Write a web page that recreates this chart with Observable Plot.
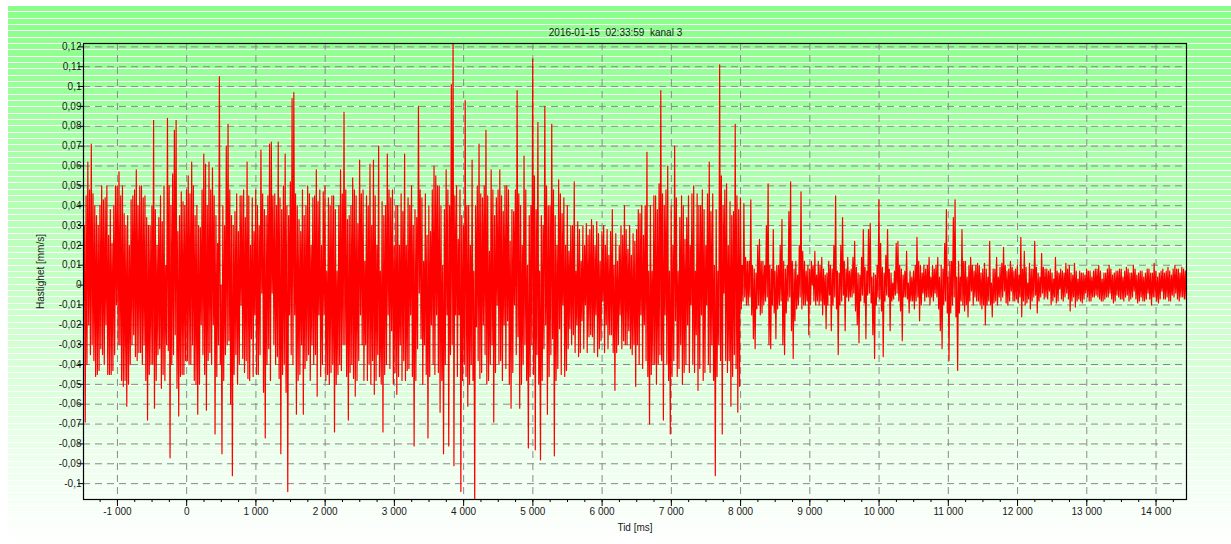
<!DOCTYPE html>
<html>
<head>
<meta charset="utf-8">
<script src="https://cdn.jsdelivr.net/npm/d3@7"></script>
<script src="https://cdn.jsdelivr.net/npm/@observablehq/plot@0.6"></script>
<style>
  html, body { margin: 0; padding: 0; background: #fff; }
  #page { position: relative; width: 1231px; height: 544px; overflow: hidden; background: #fff;
          font-family: Arial, "Liberation Sans", sans-serif; }
  #bg { position: absolute; left: 8px; top: 5px; right: 0; bottom: 0;
        background:
          repeating-linear-gradient(to bottom, #fff 0px, #fff 1px, rgba(255,255,255,0) 1px, rgba(255,255,255,0) 6.33px),
          linear-gradient(to bottom, #88ff88 0%, #ffffff 100%); }
  #chart { position: absolute; left: 0; top: 0; width: 1231px; }
  #title { height: 38px; box-sizing: border-box; padding-top: 27px; line-height: 12px;
           font-size: 10px; color: #1a1a1a; text-align: center; white-space: pre; }
</style>
</head>
<body>
<div id="page">
  <div id="bg"></div>
  <div id="chart">
    <div id="title">2016-01-15  02:33:59  kanal 3</div>
  </div>
</div>
<script>
// Recording: channel 3, velocity in bins of 25 ms starting at -1490 ms.
// Values are in µm/s (0.001 mm/s), one row per second of recording.
const startMs = -1490;
const stepMs = 25;

// Dominant extreme of each 25 ms bin
const velocityRows = [
  [-8,-69,62,-20,71,-30,40,-46,30,-43,50,-35,44,-20,25,-45,21,-43,50,-10,57,-30,50,-51,30,-61,20,-40,45,-25,58,-38,50,-34,44,-30,34,-68,30,-40],
  [83,-62,20,34,-32,-52,50,10,84,-33,-87,56,78,83,27,-66,47,-45,40,-38,55,-40,62,-30,35,-50,-65,29,-20,66,61,-63,62,-34,59,-20,-75,21,105,0],
  [-85,30,70,81,-28,-60,-96,37,-35,27,45,-10,-37,34,62,-47,20,-27,27,-15,-45,30,68,-4,-54,-77,45,71,72,-4,-30,40,72,-47,-85,50,66,-54,-104,-15],
  [94,97,-15,-65,33,27,-30,-65,40,50,-35,20,-30,45,58,-56,-15,20,47,-15,7,44,-50,45,-40,-74,7,40,58,-43,87,-30,33,-68,40,54,-47,-56,31,63],
  [-15,-30,12,-30,-48,61,30,63,-55,20,70,7,-50,-74,40,66,-15,44,-23,20,40,-55,20,-30,37,66,20,-43,40,-15,30,-81,34,90,-4,-27,12,-30,25,-77],
  [27,-20,60,55,-15,50,-64,10,-85,58,-15,-81,101,124,-91,-15,23,-15,-104,30,93,40,-61,20,63,7,-110,-21,71,-47,44,-20,78,-50,17,58,-30,-69,44,-10],
  [58,-38,37,-20,50,-18,22,-62,37,-10,98,-26,-62,20,65,-30,10,-82,40,114,55,-83,82,7,-88,30,90,-20,-65,40,81,-27,-86,20,53,-22,36,-10,20,-43],
  [17,-22,30,52,7,-20,-36,12,-18,20,-10,25,-26,33,-26,20,-15,-36,12,27,-8,20,-20,15,-25,38,10,-53,12,20,-15,25,40,-30,18,-23,15,-35,22,-51],
  [-30,36,-15,25,-20,67,7,-70,7,45,-40,-50,51,98,-38,-68,-15,60,7,-75,20,70,-18,7,34,-30,-50,23,34,-20,20,-10,50,7,-25,-53,40,-15,-48,20],
  [-10,62,37,-30,10,-96,7,111,55,-75,-4,51,20,-38,-61,37,81,45,-64,-51,10,41,-6,12,-10,43,-15,-27,-32,20,23,-15,12,-10,30,51,-30,-32,28,7],
  [-27,10,20,33,-30,-35,10,37,52,-23,-37,-18,5,20,47,17,-10,7,-8,-25,12,0,17,5,12,-10,14,-15,5,-22,12,-5,-23,20,45,7,-35,20,34,-5],
  [-23,14,7,-6,14,22,-13,-20,-29,14,28,-9,-27,28,31,4,-25,-37,10,43,21,-13,-36,15,28,-6,-23,1,7,21,22,10,-13,-28,-6,17,1,-14,4,-8],
  [10,24,-6,-18,6,-4,8,-6,14,4,-6,8,-4,14,4,-23,-32,21,38,4,-38,12,34,43,4,-43,4,28,12,-13,4,-16,14,-3,7,-6,11,-8,6,-12],
  [11,-20,4,22,1,-16,8,14,4,-6,11,19,-3,7,-10,12,-3,7,-8,10,5,24,-16,17,-10,1,11,-12,8,22,-5,-14,4,16,-4,8,-6,7,-3,-10],
  [3,14,-9,6,-2,7,-8,11,-4,10,-13,5,11,-11,3,-7,6,-9,5,-4,7,-8,4,-6,8,-5,10,-7,3,-8,6,-6,10,-4,5,-9,7,-5,8,-7],
  [4,-8,9,-5,6,-7,10,-3,5,-9,7,-6,4,-8,8,-4,6,-10,11,-6,4,-9,7,-3,6,-7,9,-8,5,-5,10,-4,8,-8,9,-6,7,-7,5]
];

// Opposite extreme reached inside the same 25 ms bin
const counterRows = [
  [30,45,-40,48,-35,46,-38,35,-45,40,-32,43,-40,50,-45,38,-45,40,-35,50,-30,45,-48,36,-48,35,-50,43,-30,48,-36,40,-34,50,-40,45,-48,30,-45,40],
  [-40,38,-48,-35,45,32,-45,-48,-30,50,40,-40,-35,-25,-52,35,-46,42,-45,48,-38,46,-40,50,-48,40,30,-50,48,-35,-45,40,-38,48,-40,45,35,-46,-30,-40],
  [40,-48,-35,-30,48,35,30,-45,46,-50,-40,45,48,-44,-38,45,-48,44,-46,48,40,-45,-35,46,38,35,-40,-32,-48,45,46,-40,-36,44,38,-45,-40,40,35,52],
  [-35,-40,46,40,-48,-45,48,35,-42,-38,46,-48,44,-40,-35,42,48,-46,-40,50,-48,-45,40,-44,45,38,-50,-45,-40,46,-30,48,-46,35,-44,-40,48,45,-48,-38],
  [46,48,-48,45,40,-40,-50,-38,45,-48,-35,-46,42,35,-45,-40,48,-42,48,-50,-44,40,-46,46,-48,-38,-48,44,-42,50,-46,38,-48,-32,48,44,-50,46,-45,40],
  [-46,48,-40,-45,50,-44,40,-48,38,-40,48,40,-35,-30,45,50,-46,48,35,-48,-40,-46,40,-50,-40,-48,40,50,-38,46,-44,50,-35,45,-48,-40,48,35,-44,48],
  [-40,45,-48,50,-42,48,-50,38,-44,48,-35,46,40,-50,-40,48,-48,35,-46,-30,-45,38,-35,-50,35,-48,-32,50,40,-46,-35,48,35,-48,-42,46,-45,44,-46,40],
  [-32,30,-30,-25,-34,32,28,-34,30,-32,31,-34,28,-25,30,-34,32,26,-32,-28,30,-34,28,-32,27,-25,-34,26,-34,-30,30,-32,-28,28,-30,30,-32,26,-30,28],
  [38,-40,40,-42,40,-38,-46,40,-45,-40,45,38,-40,-35,46,40,48,-40,-48,40,-46,-38,44,-46,-42,45,40,-44,-40,45,-44,46,-40,-44,46,40,-42,48,38,-44],
  [46,-40,-44,46,-48,38,-46,-30,-38,40,48,-38,-44,42,35,-46,-35,-42,38,44,-12,-8,14,-10,12,-6,10,8,6,-12,-10,12,-14,10,-8,-6,10,8,-10,-14],
  [10,-12,-10,-8,12,8,-14,-8,-6,12,8,12,-12,-10,-6,-12,12,-10,10,8,-10,10,-8,-10,-8,10,-8,8,-10,6,-10,10,8,-10,-6,-12,6,-10,-8,12],
  [8,-6,-8,8,-6,-4,9,6,5,-8,-5,9,7,-5,-4,-9,6,5,-10,-6,-7,9,6,-8,-5,8,6,-8,-7,-5,-4,-8,8,5,7,-6,-7,7,-8,7],
  [-12,-8,12,10,-10,10,-8,10,-6,-10,10,-8,10,-6,-12,10,8,-10,-8,-14,12,-14,-10,-6,-16,12,-14,-8,-10,12,-10,10,-8,10,-10,10,-8,10,-10,8],
  [-10,8,-10,-8,-10,8,-9,-8,-10,9,-8,-6,10,-9,8,-8,9,-8,8,-7,-9,-6,8,-8,9,-9,-7,8,-8,-6,9,6,-8,-6,9,-7,8,-7,8,6],
  [-8,-6,7,-8,8,-7,6,-6,8,-7,6,-8,-6,7,-8,7,-8,6,-7,8,-6,7,-8,7,-6,8,-6,7,-8,6,-7,8,-6,8,-7,6,-8,7,-6,8],
  [-7,7,-6,8,-8,6,-6,8,-7,6,-8,7,-8,6,-7,8,-7,6,-6,7,-8,6,-7,8,-7,7,-6,7,-8,8,-6,8,-7,6,-6,8,-7,7,-8]
];

// Axis ticks
const timeTicks = [-1000, 0, 1000, 2000, 3000, 4000, 5000, 6000, 7000, 8000, 9000, 10000, 11000, 12000, 13000, 14000];
const velocityTicks = [-0.1, -0.09, -0.08, -0.07, -0.06, -0.05, -0.04, -0.03, -0.02, -0.01, 0,
                       0.01, 0.02, 0.03, 0.04, 0.05, 0.06, 0.07, 0.08, 0.09, 0.1, 0.11, 0.12];
const timeMinorTicks = d3.range(-1250, 14440, 250);

// Each bin is traced low extreme first, then high extreme
const primary = velocityRows.flat();
const counter = counterRows.flat();
const samples = primary.flatMap((p, i) => {
  const c = counter[i];
  const t = startMs + i * stepMs;
  return [
    {t, v: Math.min(p, c) / 1000},
    {t: t + stepMs / 2, v: Math.max(p, c) / 1000}
  ];
});

// Swedish-style number formatting: decimal comma, space as thousands separator
const fmtVelocity = d => d === 0 ? "0" : String(+d.toFixed(3)).replace(".", ",");
const fmtTime = d => (d < 0 ? "-" : "") + String(Math.abs(d)).replace(/\B(?=(\d{3})+(?!\d))/g, " ");

const gridStyle = {stroke: "#8a8a8a", strokeOpacity: 1, strokeWidth: 1, strokeDasharray: "7,5"};

const chart = Plot.plot({
  width: 1231,
  height: 506,
  marginLeft: 83,
  marginRight: 45,
  marginTop: 5,
  marginBottom: 45,
  style: {
    background: "transparent",
    fontFamily: "Arial, 'Liberation Sans', sans-serif",
    fontSize: "10px",
    color: "#1a1a1a",
    overflow: "visible"
  },
  x: {domain: [-1490, 14440]},
  y: {domain: [-0.108, 0.1217]},
  marks: [
    Plot.gridX(timeTicks, gridStyle),
    Plot.gridY(velocityTicks, gridStyle),
    Plot.line(samples, {x: "t", y: "v", stroke: "#ff0000", strokeWidth: 1.2, clip: true}),
    Plot.frame({stroke: "#000", strokeWidth: 1.2}),
    Plot.axisX(timeMinorTicks, {tickSize: 3, tickFormat: () => "", label: null, stroke: "#000"}),
    Plot.axisX(timeTicks, {
      tickSize: 7, tickPadding: 1, tickFormat: fmtTime, stroke: "#000", fill: "#1a1a1a",
      label: "Tid [ms]", labelAnchor: "center", labelArrow: "none", labelOffset: 31
    }),
    Plot.axisY(velocityTicks, {
      tickSize: 5, tickPadding: -3, tickFormat: fmtVelocity, stroke: "#000", fill: "#1a1a1a",
      label: "Hastighet [mm/s]", labelAnchor: "center", labelArrow: "none", labelOffset: 47
    })
  ]
});

document.getElementById("chart").appendChild(chart);
</script>
</body>
</html>
